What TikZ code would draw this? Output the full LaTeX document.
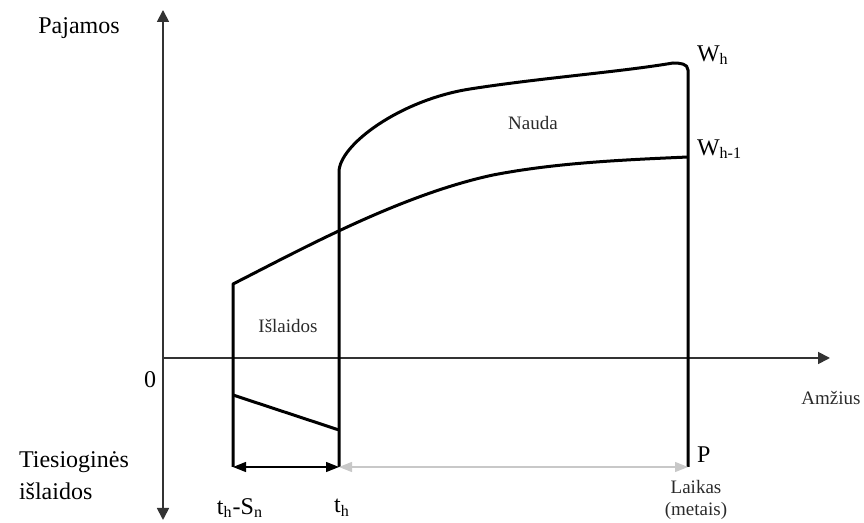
\documentclass[tikz,border=0pt]{standalone}
\usepackage{fontspec}
\setmainfont{Liberation Serif}
\usetikzlibrary{arrows.meta}
\definecolor{axisGray}{HTML}{333333}
\definecolor{spanGray}{HTML}{C8C8C8}
\definecolor{labelGray}{HTML}{2A2A2A}
\begin{document}
\begin{tikzpicture}[x=0.5pt,y=-0.5pt,font=\fontsize{12}{14}\selectfont,
  curve/.style={line width=1.5pt,line join=round},
  axis/.style={draw=axisGray,line width=0.9pt,-{Triangle[length=6pt,width=6pt]}},
  span/.style={line width=0.6pt,{Triangle[length=6.5pt,width=5pt]}-{Triangle[length=6.5pt,width=5pt]}},
  small/.style={font=\fontsize{9.5}{11}\selectfont,text=labelGray}]
  \useasboundingbox (0,0) rectangle (864,523);

  % axes
  \coordinate (yBot) at (163,520);
  \coordinate (yTop) at (163,10);
  \coordinate (O)    at (163,358);
  \coordinate (xEnd) at (830,358);
  \draw[axis,{Triangle[length=6pt,width=6pt]}-{Triangle[length=6pt,width=6pt]}] (yBot) -- (yTop);
  \draw[axis] (O) -- (xEnd);

  % key points
  \coordinate (sTop) at (233,284);
  \coordinate (sLow) at (233,395);
  \coordinate (sBot) at (233,467);
  \coordinate (thBend) at (339,172);
  \coordinate (thLow) at (339,430);
  \coordinate (thBot) at (339,467);
  \coordinate (pTop) at (688,70);
  \coordinate (pMid) at (688,157);
  \coordinate (pBot) at (688,467);

  % income without training (W_{h-1})
  \draw[curve] (sBot) -- (sTop)
    .. controls (300,250) and (400,195) .. (493,175)
    .. controls (555,163) and (620,160) .. (pMid);

  % income with training (W_h)
  \draw[curve] (thBot) -- (thBend)
    .. controls (339,145) and (400,100) .. (470,89)
    .. controls (540,78) and (620,72) .. (673,63)
    to[out=0,in=90] (pTop) -- (pBot);

  % direct costs
  \draw[curve] (sLow) -- (thLow);

  % time spans
  \draw[span] (sBot) -- (thBot);
  \draw[span,draw=spanGray] (thBot) -- (pBot);

  % labels
  \node (pajamos) at (79,28) {Pajamos};
  \node[align=left,anchor=west] (islaidosTxt) at (12,476) {Tiesioginės\\[2pt]išlaidos};
  \node (zero) at (150,380) {0};
  \node[anchor=west] (wh) at (690,55) {W\textsubscript{h}};
  \node[anchor=west] (whm) at (690,149) {W\textsubscript{h-1}};
  \node[anchor=west] (p) at (690,455) {P};
  \node (thsn) at (240,508) {t\textsubscript{h}-S\textsubscript{n}};
  \node (th) at (342,508) {t\textsubscript{h}};
  \node[small] (nauda) at (533,123) {Nauda};
  \node[small] (islaidos) at (288,326) {Išlaidos};
  \node[small] (amzius) at (831,398) {Amžius};
  \node[small,align=center] (laikas) at (696,500) {Laikas\\(metais)};
\end{tikzpicture}
\end{document}
